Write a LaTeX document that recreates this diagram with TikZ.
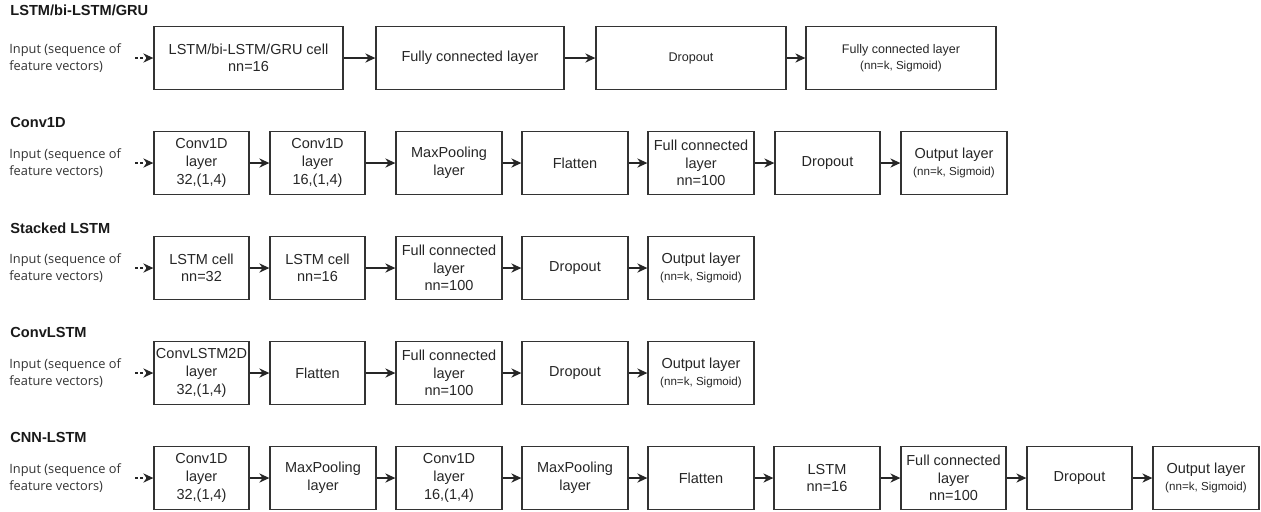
\documentclass[tikz,border=0pt]{standalone}
\usepackage{fontspec}
\setmainfont{Liberation Sans}
\newfontfamily\inpfont{Open Sans}
\usetikzlibrary{arrows.meta,positioning}
\newcommand{\sm}{\fontsize{5.8pt}{7pt}\selectfont}

\begin{document}
\begin{tikzpicture}[x=0.5pt,y=-0.5pt,
    blk/.style={draw=black!80, line width=0.65pt, minimum height=31.5pt, inner sep=0pt,
        align=center, text=black!85, font=\fontsize{7.25pt}{8.8pt}\selectfont},
    wd/.style={minimum width=#1*0.5pt},
    ttl/.style={anchor=west, inner sep=0pt, text=black!90, font=\bfseries\fontsize{7.3pt}{8.8pt}\selectfont},
    inp/.style={anchor=west, inner sep=0pt, align=left, text=black!80, font=\inpfont\fontsize{6.4pt}{8.4pt}\selectfont},
    flow/.style={-{Stealth[length=5pt,width=4.6pt,inset=1.6pt]}, line width=0.7pt, black!85},
    feed/.style={flow, dash pattern=on 1.5pt off 1.2pt}]
    \useasboundingbox (0,0) rectangle (1261,511);

    % LSTM/bi-LSTM/GRU
    \node[ttl] (t1) at (10,10) {LSTM/bi-LSTM/GRU};
    \node[inp] (i1) at (9,58) {Input (sequence of\\feature vectors)};
    \coordinate (f1) at (135,58);
    \node[blk, wd=189] (g1) at (248.5,58) {LSTM/bi-LSTM/GRU cell\\nn=16};
    \node[blk, wd=188] (g2) at (470,58) {Fully connected layer};
    \node[blk, wd=190, font=\fontsize{6.3pt}{7.8pt}\selectfont] (g3) at (691,58) {Dropout};
    \node[blk, wd=190, font=\fontsize{6.25pt}{7.8pt}\selectfont] (g4) at (901,58) {Fully connected layer\\{\sm (nn=k, Sigmoid)}};
    \draw[feed] (f1) -- (g1);
    \draw[flow] (g1) -- (g2);
    \draw[flow] (g2) -- (g3);
    \draw[flow] (g3) -- (g4);

    % Conv1D
    \node[ttl] (t2) at (10,122) {Conv1D};
    \node[inp] (i2) at (9,163) {Input (sequence of\\feature vectors)};
    \coordinate (f2) at (135,163);
    \node[blk, wd=95] (c1) at (201.5,163) {Conv1D\\layer\\32,(1,4)};
    \node[blk, wd=95] (c2) at (317.5,163) {Conv1D\\layer\\16,(1,4)};
    \node[blk, wd=106] (c3) at (449,163) {MaxPooling\\layer};
    \node[blk, wd=106] (c4) at (575,163) {Flatten};
    \node[blk, wd=106] (c5) at (701,163) {Full connected\\layer\\nn=100};
    \node[blk, wd=105] (c6) at (827.5,163) {Dropout};
    \node[blk, wd=106] (c7) at (954,163) {Output layer\\{\sm (nn=k, Sigmoid)}};
    \draw[feed] (f2) -- (c1);
    \draw[flow] (c1) -- (c2);
    \draw[flow] (c2) -- (c3);
    \draw[flow] (c3) -- (c4);
    \draw[flow] (c4) -- (c5);
    \draw[flow] (c5) -- (c6);
    \draw[flow] (c6) -- (c7);

    % Stacked LSTM
    \node[ttl] (t3) at (10,228) {Stacked LSTM};
    \node[inp] (i3) at (9,268) {Input (sequence of\\feature vectors)};
    \coordinate (f3) at (135,268);
    \node[blk, wd=95] (s1) at (201.5,268) {LSTM cell\\nn=32};
    \node[blk, wd=95] (s2) at (317.5,268) {LSTM cell\\nn=16};
    \node[blk, wd=106] (s3) at (449,268) {Full connected\\layer\\nn=100};
    \node[blk, wd=106] (s4) at (575,268) {Dropout};
    \node[blk, wd=106] (s5) at (701,268) {Output layer\\{\sm (nn=k, Sigmoid)}};
    \draw[feed] (f3) -- (s1);
    \draw[flow] (s1) -- (s2);
    \draw[flow] (s2) -- (s3);
    \draw[flow] (s3) -- (s4);
    \draw[flow] (s4) -- (s5);

    % ConvLSTM
    \node[ttl] (t4) at (10,332) {ConvLSTM};
    \node[inp] (i4) at (9,373) {Input (sequence of\\feature vectors)};
    \coordinate (f4) at (135,373);
    \node[blk, wd=95] (v1) at (201.5,373) {ConvLSTM2D\\layer\\32,(1,4)};
    \node[blk, wd=95] (v2) at (317.5,373) {Flatten};
    \node[blk, wd=106] (v3) at (449,373) {Full connected\\layer\\nn=100};
    \node[blk, wd=106] (v4) at (575,373) {Dropout};
    \node[blk, wd=106] (v5) at (701,373) {Output layer\\{\sm (nn=k, Sigmoid)}};
    \draw[feed] (f4) -- (v1);
    \draw[flow] (v1) -- (v2);
    \draw[flow] (v2) -- (v3);
    \draw[flow] (v3) -- (v4);
    \draw[flow] (v4) -- (v5);

    % CNN-LSTM
    \node[ttl] (t5) at (10,437) {CNN-LSTM};
    \node[inp] (i5) at (9,478) {Input (sequence of\\feature vectors)};
    \coordinate (f5) at (135,478);
    \node[blk, wd=95] (n1) at (201.5,478) {Conv1D\\layer\\32,(1,4)};
    \node[blk, wd=106] (n2) at (323,478) {MaxPooling\\layer};
    \node[blk, wd=106] (n3) at (449,478) {Conv1D\\layer\\16,(1,4)};
    \node[blk, wd=106] (n4) at (575,478) {MaxPooling\\layer};
    \node[blk, wd=106] (n5) at (701,478) {Flatten};
    \node[blk, wd=106] (n6) at (827,478) {LSTM\\nn=16};
    \node[blk, wd=105] (n7) at (953.5,478) {Full connected\\layer\\nn=100};
    \node[blk, wd=105] (n8) at (1079.5,478) {Dropout};
    \node[blk, wd=106] (n9) at (1206,478) {Output layer\\{\sm (nn=k, Sigmoid)}};
    \draw[feed] (f5) -- (n1);
    \draw[flow] (n1) -- (n2);
    \draw[flow] (n2) -- (n3);
    \draw[flow] (n3) -- (n4);
    \draw[flow] (n4) -- (n5);
    \draw[flow] (n5) -- (n6);
    \draw[flow] (n6) -- (n7);
    \draw[flow] (n7) -- (n8);
    \draw[flow] (n8) -- (n9);
\end{tikzpicture}
\end{document}
